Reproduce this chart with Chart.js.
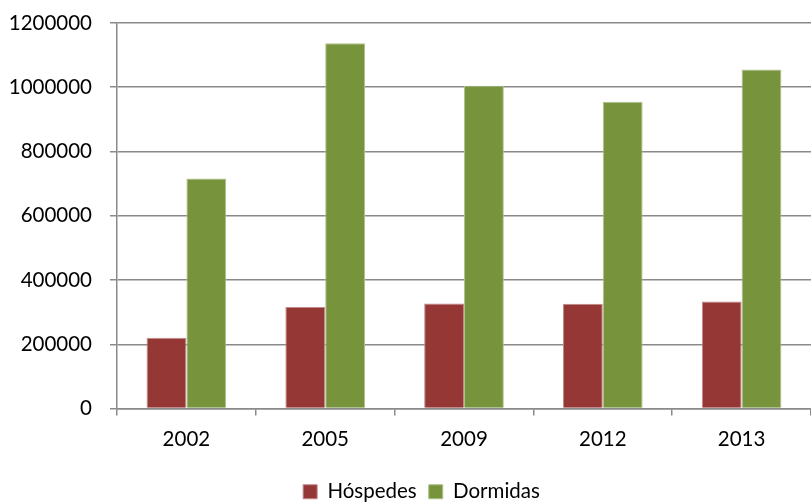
<!DOCTYPE html>
<html>
<head>
  <title>Hóspedes e Dormidas</title>
  <script src="https://cdn.jsdelivr.net/npm/chart.js"></script>
  <style>
    html, body { margin: 0; padding: 0; background: #fff; overflow: hidden; }
    #wrap { width: 811px; height: 502px; }
  </style>
</head>
<body>
  <div id="wrap"><canvas id="hospedesChart"></canvas></div>

  <script>
    const anos = ['2002', '2005', '2009', '2012', '2013'];
    const hospedes = [220000, 316000, 327000, 326000, 333000];
    const dormidas = [716000, 1137000, 1005000, 955000, 1055000];
    const yTicks = [0, 200000, 400000, 600000, 800000, 1000000, 1200000];

    const fonte = { family: 'Lato, "Open Sans", sans-serif', size: 20.5 };
    const cinza = '#8a8a8a';

    // the legend sits a little right of the canvas centre
    const legendaDeslocada = {
      id: 'legendaDeslocada',
      afterLayout(chart) {
        chart.legend.left += 16;
        chart.legend.right += 16;
      }
    };

    const ctx = document.getElementById('hospedesChart').getContext('2d');

    const hospedesChart = new Chart(ctx, {
      type: 'bar',
      data: {
        labels: anos,
        datasets: [{
          label: 'Hóspedes',
          data: hospedes,
          backgroundColor: '#953735',
          borderColor: '#c08a88',
          borderWidth: 1
        }, {
          label: 'Dormidas',
          data: dormidas,
          backgroundColor: '#77933c',
          borderColor: '#aec28a',
          borderWidth: 1
        }]
      },
      plugins: [legendaDeslocada],
      options: {
        responsive: true,
        maintainAspectRatio: false,
        animation: false,
        layout: { padding: { top: 23, right: 0, left: 0, bottom: -10 } },
        datasets: {
          bar: { categoryPercentage: 0.574, barPercentage: 1 }
        },
        scales: {
          x: {
            afterFit: axis => { axis.height = 61; },
            grid: {
              offset: true,
              drawOnChartArea: false,
              drawTicks: true,
              tickLength: 7,
              color: cinza,
              lineWidth: 1.5
            },
            border: { color: cinza, width: 1.5 },
            ticks: { color: '#000', font: fonte, padding: 12 }
          },
          y: {
            min: 0,
            max: 1200000,
            afterFit: axis => {
              axis.width = 117;
              axis.paddingTop = 0;
              axis.paddingBottom = 0;
            },
            afterBuildTicks: axis => {
              axis.ticks = yTicks.map(v => ({ value: v }));
            },
            grid: {
              color: cinza,
              lineWidth: 1.5,
              tickLength: 7
            },
            border: { color: cinza, width: 1.5 },
            ticks: {
              color: '#000',
              font: fonte,
              padding: 18,
              callback: v => String(v)
            }
          }
        },
        plugins: {
          tooltip: { enabled: false },
          legend: {
            position: 'bottom',
            labels: {
              color: '#000',
              font: fonte,
              boxWidth: 14,
              boxHeight: 14,
              padding: 12
            }
          }
        }
      }
    });
  </script>
</body>
</html>
